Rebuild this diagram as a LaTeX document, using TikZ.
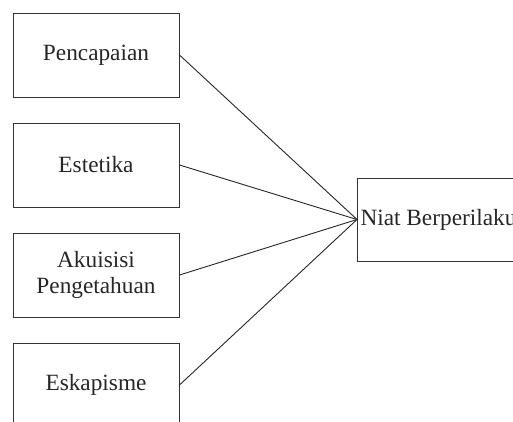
\documentclass[tikz,border=0pt]{standalone}
\usepackage{fontspec}
\setmainfont{Liberation Serif}
\begin{document}
\begin{tikzpicture}[x=1pt,y=-1pt,
  box/.style={draw=black!80, line width=1pt, minimum width=166pt, minimum height=84pt, inner sep=0pt, align=center, font=\fontsize{23.3}{26}\selectfont, text=black!85},
  tbox/.style={draw=black!80, line width=1pt, minimum height=83pt, inner xsep=3pt, inner ysep=0pt, anchor=west, font=\fontsize{23.3}{26}\selectfont, text=black!85},
  link/.style={draw=black!85, line width=0.9pt}]
\useasboundingbox (0,0) rectangle (513,421);
\clip (0,0) rectangle (513,421);
\node[box] (a) at (96,55) {Pencapaian};
\node[box] (b) at (96,165) {Estetika};
\node[box] (c) at (96,275) {Akuisisi\\Pengetahuan};
\node[box] (d) at (96,385) {Eskapisme};
\node[tbox] (r) at (357,219.5) {Niat Berperilaku};
\draw[link] (a.east) -- (r.west);
\draw[link] (b.east) -- (r.west);
\draw[link] (c.east) -- (r.west);
\draw[link] (d.east) -- (r.west);
\end{tikzpicture}
\end{document}
